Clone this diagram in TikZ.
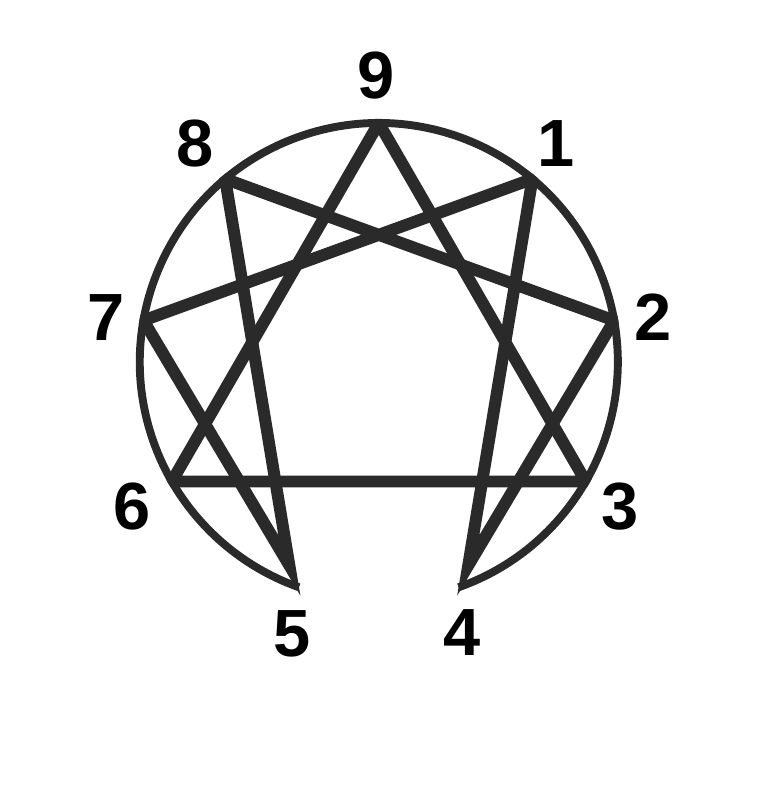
\documentclass[tikz,border=0pt]{standalone}
\usepackage{fontspec}
\setmainfont{Liberation Sans}
\usetikzlibrary{calc}

\definecolor{ennealine}{RGB}{42,42,42}

\begin{document}
\begin{tikzpicture}[
    ring/.style={draw=ennealine,line width=4.5pt},
    star/.style={draw=ennealine,line width=6.8pt,line join=miter},
    num/.style={font=\fontsize{38}{40}\selectfont\bfseries,text=black}
  ]
  \useasboundingbox (-7.576,-8.52) rectangle (7.784,7.24);
  % points on the ring, 9 at the top, clockwise
  \foreach \n in {1,...,9}
    \coordinate (p\n) at ({90-40*\n}:4.78);
  % the two sharp tips sit a bit inside
  \coordinate (q5) at ($(p5)!0.45cm!(150:4.78)$);
  \coordinate (q4) at ($(p4)!0.45cm!(30:4.78)$);
  % open ring, gap between 4 and 5
  \draw[ring] (-70.5:4.78) arc[start angle=-70.5,end angle=250.5,radius=4.78];
  % triangle and hexad, kept inside the ring
  \begin{scope}
    \clip (-60:4.86) arc[start angle=-60,end angle=240,radius=4.86]
      -- (-3,-6) -- (3,-6) -- cycle;
    \draw[star] (p9) -- (p3) -- (p6) -- cycle;
    \draw[star] (p1) -- (q4) -- (p2) -- (p8) -- (q5) -- (p7) -- cycle;
  \end{scope}
  % numbers
  \node[num] at (-0.046,5.72) (l9) {9};
  \node[num] at (3.544,4.36) (l1) {1};
  \node[num] at (5.484,0.90) (l2) {2};
  \node[num] at (4.824,-2.90) (l3) {3};
  \node[num] at (1.664,-5.42) (l4) {4};
  \node[num] at (-1.736,-5.44) (l5) {5};
  \node[num] at (-4.936,-2.90) (l6) {6};
  \node[num] at (-5.456,0.88) (l7) {7};
  \node[num] at (-3.676,4.36) (l8) {8};
\end{tikzpicture}
\end{document}
